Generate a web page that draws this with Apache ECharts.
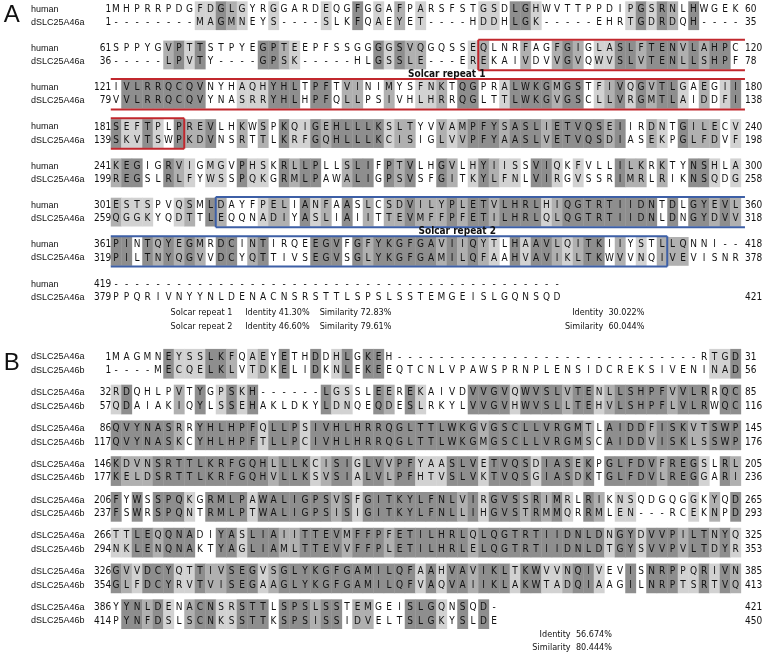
<!DOCTYPE html>
<html>
<head>
<meta charset="utf-8">
<script src="https://cdn.jsdelivr.net/npm/echarts@6/dist/echarts.min.js"></script>
<style>
  html, body { margin: 0; padding: 0; background: #fff; }
  #chart { width: 762px; height: 658px; }
</style>
</head>
<body>
<div id="chart"></div>
<script>
// ---- panel A : human vs dSLC25A46a ----
const namesA = ["human", "dSLC25A46a"];
const topSeqA = [
  "MHPRRPDGFDGLGYRGGARDEQGFGGAFPARSFSTGSDLGHWVTTPPDIPGSRNLHWGEK",
  "SPPYGVPTTSTPYEGPTEEPFSSGGGGSVQGQSSEQLNRFAGFGIGLASLFTENVLAHPC",
  "IVLRRQCQVNYHAQHYHLTPFTVINIMYSFNKTQGPRALWKGMGSTFIVQGVTLGAEGII",
  "SEFTPLPREVLHKWSPKQIGEHLLLKSLTYVVAMPFYSASLIETVQSEIIRDNTGILECV",
  "KEGIGRVIGMGVPHSKRLLPLLSLIFPTVLHGVLHYIISSVIQKFVLLILKRKTYNSHLA",
  "ESTSPVQSMLDAYFPELIANFAASLCSDVILYPLETVLHRLHIQGTRTIIDNTDLGYEVL",
  "PINTQYEGMRDCINTIRQEEGVFGFYKGFGAVIIQYTLHAAVLQITKIIYSTLLQNNI--",
  "-------------------------------------------"
];
const botSeqA = [
  "--------MAGMNEYS----SLKFQAEYET----HDDHLGK-----EHRTGDRDQH----",
  "-----LPVTY----GPSK-----HLGSSLE---EREKAIVDVVGVQWVSLVTENLLSHPF",
  "VVLRRQCQVYNASRRYHLHPFQLLPSIVHLHRRQGLTTLWKGVGSCLLVRGMTLAIDDFI",
  "SKVTSWPKDVNSRTTLKRFGQHLLLKCISIGLVVPFYAASLVETVQSDIASEKPGLFDVF",
  "REGSLRLFYWSSPQKGRMLPAWALIGPSVSFGITKYLFNLVIRGVSSRIMRLRIKNSQDG",
  "QGGKYQDTTLEQQNADIYASLIAIITTEVMFFPFETILHRLQLQGTRTIIDNLDNGYDVV",
  "PILTNYQGVVDCYQTTIVSEGVSGLYKGFGAMILQFAAHVAVIKLTKWVVNQIVEVISNR",
  "PPQRIVNYYNLDENACNSRSTTLSPSLSSTEMGEISLGQNSQD"
];
const topStartA = [1, 61, 121, 181, 241, 301, 361, 419];
const topEndA = [60, 120, 180, 240, 300, 360, 418, null];
const botStartA = [1, 36, 79, 139, 199, 259, 319, 379];
const botEndA = [35, 78, 138, 198, 258, 318, 378, 421];
// shading per column: 0 none, 1 light, 2 medium, 3 dark
const shadeA = [
  "000000001132100100001003010201000001103310000000013132030000",
  "000002313000003321000000031322000012000200232011332333232330",
  "033333333000111333033022002001120330013333233012313233102013",
  "311310322300202031132333331220021233323332333332300210322201",
  "233003210110311032330023303230032013211033101000322020033101",
  "211100120320001220312030202232223233233331233333333303033232",
  "330323232033023000033303233333323232103133212330201022200000",
  ""
];
const repeatLabels = ["Solcar repeat 1", "Solcar repeat 2"];
// [start block, start column, end block, end column]
const repeatBoxes = [[1, 35, 3, 6], [5, 10, 6, 52]];
const summaryA = [
  ["Solcar repeat 1", "Identity 41.30%", "Similarity 72.83%"],
  ["Solcar repeat 2", "Identity 46.60%", "Similarity 79.61%"]
];
const overallA = [["Identity", "30.022%"], ["Similarity", "60.044%"]];

// ---- panel B : dSLC25A46a vs dSLC25A46b ----
const namesB = ["dSLC25A46a", "dSLC25A46b"];
const topSeqB = [
  "MAGMNEYSSLKFQAEYETHDDHLGKEH-----------------------------RTGD",
  "RDQHLPVTYGPSKH------LGSSLEEREKAIVDVVGVQWVSLVTENLLSHPFVVLRRQC",
  "QVYNASRRYHLHPFQLLPSIVHLHRRQGLTTLWKGVGSCLLVRGMTLAIDDFISKVTSWP",
  "KDVNSRTTLKRFGQHLLLKCISIGLVVPFYAASLVETVQSDIASEKPGLFDVFREGSLRL",
  "FYWSSPQKGRMLPAWALIGPSVSFGITKYLFNLVIRGVSSRIMRLRIKNSQDGQGGKYQD",
  "TTLEQQNADIYASLIAIITTEVMFFPFETILHRLQLQGTRTIIDNLDNGYDVVPILTNYQ",
  "GVVDCYQTTIVSEGVSGLYKGFGAMILQFAAHVAVIKLTKWVVNQIVEVISNRPPQRIVN",
  "YYNLDENACNSRSTTLSPSLSSTEMGEISLGQNSQD-"
];
const botSeqB = [
  "----MECQELKLVTDKELIDKNLEKEEQTCNLVPAWSPRNPLENSIDCREKSIVENINAD",
  "QDAIAKIQYLSSEHAKLDKYLDNQEQDESLRKYLVVGVHWVSLLTEHVLSHPFLVLRWQC",
  "QVYNASKCYHLHPFTLLPCIVHLHRRQGLTTLWKGMGSCLLVRGMSCAIDDVISKLSSWP",
  "KELDSRTTLKRFGQHVLLKSVSIALVLPFHTVSLVKTVQSGIASDKTGLFDVLREGGARI",
  "FSWRSPQNTRMLPTWALIGPSISIGITKYLFNLLIHGVSTRMMQRRMLEN---RCEKNPD",
  "NKLENQNAKTYAGLIAMLTTEVVFFPLETILHRLELQGTRTIIDNLDTGYSVVPVLTDYR",
  "GLFDCYRVTVISEGAAGLYKGFGAMILQFVAQVAIIKLAKWTADQIAAGILNRPTSRTVQ",
  "PYNFDSLSCNKSSTTKSPSISSIDVELTSLGKYSLDE"
];
const topStartB = [1, 32, 86, 146, 206, 266, 326, 386];
const topEndB = [31, 85, 145, 205, 265, 325, 385, 421];
const botStartB = [1, 57, 117, 177, 237, 294, 354, 414];
const botEndB = [56, 116, 176, 236, 293, 353, 413, 450];
const shadeB = [
  "000003111332012030030130330000000000000000000000000000000113",
  "130000203013130000003110032031000033331333323312333332333033",
  "333333203333331333133333333333333332333333333203333233322333",
  "322233333333333233312331332331113331333313332303333323331032",
  "303033310333313333333231333333333231333232310320110000010203",
  "113323330033133322333323332333333323333333333331331333233231",
  "321333113223331233333333333331313323331331123310030333113132",
  "0332310233113330333233022000333103030"
];
const overallB = [["Identity", "56.674%"], ["Similarity", "80.444%"]];

// ---- layout ----
const COL_W = 10.5, COL0 = 116;
const shadeColors = ["transparent", "#d2d2d2", "#b0b0b0", "#8e8e8e"];
const boxColors = ["#c1272d", "#3d5fa6"];
const RES_FONT = "'Liberation Sans Narrow', 'DejaVu Sans Condensed', 'Liberation Sans', sans-serif";
const NAME_FONT = "'Liberation Sans', Arial, sans-serif";

function buildPanel(names, topSeq, botSeq, topStart, topEnd, botStart, botEnd, shade, step) {
  const cells = [], texts = [];
  for (let k = 0; k < topSeq.length; k++) {
    const y0 = k * step;
    const rows = [[topSeq[k], topStart[k], topEnd[k]], [botSeq[k], botStart[k], botEnd[k]]];
    rows.forEach((r, j) => {
      const y = y0 + j;
      texts.push({ c: -8.1, y, t: names[j], kind: "name", align: "left" });
      texts.push({ c: -0.45, y, t: String(r[1]), kind: "num", align: "right" });
      for (let i = 0; i < r[0].length; i++) {
        texts.push({ c: i, y, t: r[0][i], kind: "res", align: "center" });
      }
      if (r[2] != null) texts.push({ c: 59.9, y, t: String(r[2]), kind: "num", align: "left" });
    });
    const s = shade[k];
    for (let i = 0; i < s.length; i++) {
      if (s[i] !== "0") cells.push([i, y0, +s[i]]);
    }
  }
  return { cells, texts };
}

const STEP_A = 3, STEP_B = 2.65;
const pA = buildPanel(namesA, topSeqA, botSeqA, topStartA, topEndA, botStartA, botEndA, shadeA, STEP_A);
const pB = buildPanel(namesB, topSeqB, botSeqB, topStartB, topEndB, botStartB, botEndB, shadeB, STEP_B);

pA.texts.push({ c: -10.7, y: 0.5, t: "A", kind: "big", align: "left" });
pB.texts.push({ c: -10.7, y: 0.5, t: "B", kind: "big", align: "left" });
pA.texts.push({ c: 31.5, y: 1 * STEP_A + 1.98, t: repeatLabels[0], kind: "label", align: "center" });
pA.texts.push({ c: 32.5, y: 5 * STEP_A + 1.98, t: repeatLabels[1], kind: "label", align: "center" });
summaryA.forEach((row, j) => {
  const y = 7 * STEP_A + 2.15 + j * 1.1;
  pA.texts.push({ c: 5.2, y, t: row[0], kind: "note", align: "left" });
  pA.texts.push({ c: 12.3, y, t: row[1], kind: "note", align: "left" });
  pA.texts.push({ c: 19.4, y, t: row[2], kind: "note", align: "left" });
  pA.texts.push({ c: 46.4, y, t: overallA[j][0], kind: "note", align: "right" });
  pA.texts.push({ c: 46.9, y, t: overallA[j][1], kind: "note", align: "left" });
});
overallB.forEach((row, j) => {
  const y = 7 * STEP_B + 2.0 + j * 1.0;
  pB.texts.push({ c: 43.3, y, t: row[0], kind: "note", align: "right" });
  pB.texts.push({ c: 43.8, y, t: row[1], kind: "note", align: "left" });
});

// repeat boxes as line segments in data units
const boxSegs = [];
repeatBoxes.forEach((b, n) => {
  for (let k = b[0]; k <= b[2]; k++) {
    const yT = k * STEP_A - 0.66, yB = k * STEP_A + 1.66;
    const c1 = k === b[0] ? b[1] - 0.5 : -0.5;
    const c2 = k === b[2] ? b[3] + 0.5 : 59.9;
    boxSegs.push([c1, yT, c2, yT, n], [c1, yB, c2, yB, n]);
    if (k === b[0]) boxSegs.push([c1, yT, c1, yB, n]);
    if (k === b[2]) boxSegs.push([c2, yT, c2, yB, n]);
  }
});

const fontOf = {
  name: { size: 9, family: NAME_FONT, weight: "normal" },
  num: { size: 10, family: RES_FONT, weight: "normal" },
  res: { size: 10, family: RES_FONT, weight: "normal" },
  big: { size: 24, family: NAME_FONT, weight: "normal" },
  label: { size: 10, family: RES_FONT, weight: "bold" },
  note: { size: 9, family: RES_FONT, weight: "normal" }
};

function cellSeries(cells, gi) {
  return {
    type: "custom", xAxisIndex: gi, yAxisIndex: gi, silent: true,
    data: cells, encode: { x: 0, y: 1 },
    renderItem: (params, api) => {
      const c = api.value(0), y = api.value(1), lvl = api.value(2);
      const p0 = api.coord([c - 0.5, y - 0.6]);
      const p1 = api.coord([c + 0.5, y + 1.6]);
      return { type: "rect", shape: { x: p0[0], y: p0[1], width: p1[0] - p0[0] + 0.4, height: p1[1] - p0[1] },
        style: { fill: shadeColors[lvl] } };
    }
  };
}
function textSeries(texts, gi) {
  return {
    type: "custom", xAxisIndex: gi, yAxisIndex: gi, silent: true, z: 5,
    data: texts.map(t => [t.c, t.y]), encode: { x: 0, y: 1 },
    renderItem: (params, api) => {
      const t = texts[params.dataIndex];
      const p = api.coord([t.c, t.y]);
      const f = fontOf[t.kind];
      return { type: "text", x: p[0], y: p[1],
        style: { text: t.t, align: t.align, verticalAlign: "middle", fill: "#111",
          fontSize: f.size, fontFamily: f.family, fontWeight: f.weight } };
    }
  };
}

const yMinA = -0.7, yMaxA = 25, unitA = 13.1, rowA0 = 9;
const yMinB = -0.8, yMaxB = 21.4, unitB = 13.5, rowB0 = 357;

const chart = echarts.init(document.getElementById("chart"), null, { renderer: "canvas" });
chart.setOption({
  animation: false,
  backgroundColor: "#fff",
  grid: [
    { left: COL0 - COL_W / 2, width: COL_W * 60, top: rowA0 + yMinA * unitA, height: (yMaxA - yMinA) * unitA },
    { left: COL0 - COL_W / 2, width: COL_W * 60, top: rowB0 + yMinB * unitB, height: (yMaxB - yMinB) * unitB }
  ],
  xAxis: [
    { type: "value", gridIndex: 0, min: -0.5, max: 59.5, show: false },
    { type: "value", gridIndex: 1, min: -0.5, max: 59.5, show: false }
  ],
  yAxis: [
    { type: "value", gridIndex: 0, min: yMinA, max: yMaxA, inverse: true, show: false },
    { type: "value", gridIndex: 1, min: yMinB, max: yMaxB, inverse: true, show: false }
  ],
  series: [
    cellSeries(pA.cells, 0),
    cellSeries(pB.cells, 1),
    {
      type: "custom", xAxisIndex: 0, yAxisIndex: 0, silent: true, z: 4,
      data: boxSegs, encode: { x: 0, y: 1 },
      renderItem: (params, api) => {
        const a = api.coord([api.value(0), api.value(1)]);
        const b = api.coord([api.value(2), api.value(3)]);
        return { type: "line", shape: { x1: a[0], y1: a[1], x2: b[0], y2: b[1] },
          style: { stroke: boxColors[api.value(4)], lineWidth: 2 } };
      }
    },
    textSeries(pA.texts, 0),
    textSeries(pB.texts, 1)
  ]
});
</script>
</body>
</html>
